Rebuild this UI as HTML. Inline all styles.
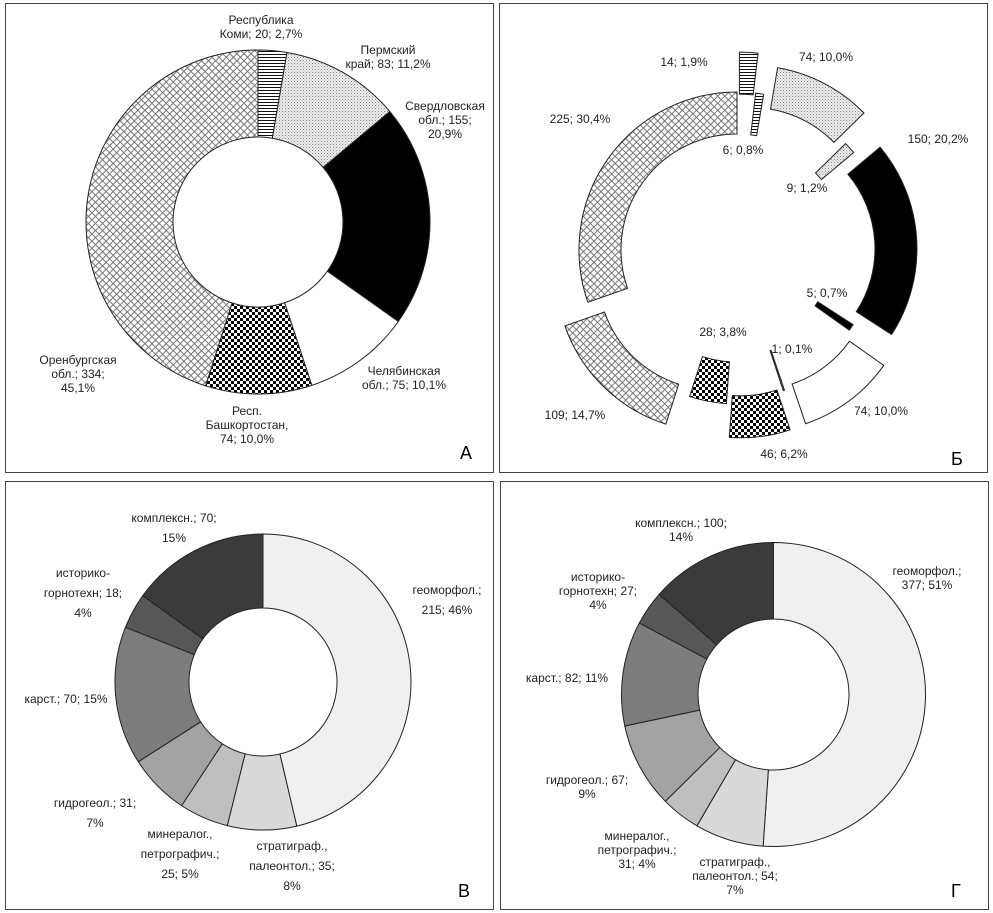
<!DOCTYPE html>
<html><head><meta charset="utf-8">
<style>
html,body{margin:0;padding:0;background:#fff;}
svg{display:block;}
text{font-family:"Liberation Sans",sans-serif;font-size:12px;fill:#222;}
.big{font-size:18px;fill:#000;}
</style></head>
<body>
<svg id="fig" width="993" height="913" viewBox="0 0 993 913">
<defs>
 <pattern id="p-hl" width="4" height="3" patternUnits="userSpaceOnUse"><rect width="4" height="3" fill="#fff"/><rect width="4" height="1" fill="#111"/></pattern>
 <pattern id="p-dot" width="3" height="3" patternUnits="userSpaceOnUse"><rect width="3" height="3" fill="#eee"/><rect width="1" height="1" fill="#888"/><rect x="1.5" y="1.5" width="1" height="1" fill="#aaa"/></pattern>
 <pattern id="p-cross" width="5" height="5" patternUnits="userSpaceOnUse" patternTransform="rotate(45)"><rect width="5" height="5" fill="#fff"/><rect width="5" height="1" fill="#777"/><rect width="1" height="5" fill="#777"/></pattern>
 <pattern id="p-check" width="6" height="6" patternUnits="userSpaceOnUse"><rect width="6" height="6" fill="#fff"/><rect width="3" height="3" fill="#000"/><rect x="3" y="3" width="3" height="3" fill="#000"/></pattern>
</defs>
<rect x="5.5" y="3.5" width="488" height="469" fill="none" stroke="#444"/>
<rect x="499.5" y="3.5" width="488" height="469" fill="none" stroke="#444"/>
<rect x="5.5" y="481.5" width="488" height="428" fill="none" stroke="#444"/>
<rect x="500.5" y="481.5" width="488" height="428" fill="none" stroke="#444"/>
<g id="gA"></g>
<g id="gB"></g>
<g id="gC"></g>
<g id="gD"></g>
<text class="big" x="460" y="459">А</text>
<text class="big" x="951" y="465">Б</text>
<text class="big" x="458" y="897">В</text>
<text class="big" x="951" y="897">Г</text>
</svg>
<script>
// Chart A
const aCategories = ["Республика Коми","Пермский край","Свердловская обл.","Челябинская обл.","Респ. Башкортостан","Оренбургская обл."];
const aValues = [20, 83, 155, 75, 74, 334];
const aLabels = [["Республика","Коми; 20; 2,7%"],["Пермский","край; 83; 11,2%"],["Свердловская","обл.; 155;","20,9%"],["Челябинская","обл.; 75; 10,1%"],["Респ.","Башкортостан,","74; 10,0%"],["Оренбургская","обл.; 334;","45,1%"]];
// Chart Б
const bValues = [14, 6, 74, 9, 150, 5, 74, 1, 46, 28, 109, 225];
const bLabels = ["14; 1,9%","6; 0,8%","74; 10,0%","9; 1,2%","150; 20,2%","5; 0,7%","74; 10,0%","1; 0,1%","46; 6,2%","28; 3,8%","109; 14,7%","225; 30,4%"];
// Chart В
const cCategories = ["геоморфол.","стратиграф., палеонтол.","минералог., петрографич.","гидрогеол.","карст.","историко-горнотехн","комплексн."];
const cValues = [215, 35, 25, 31, 70, 18, 70];
const cLabels = [["геоморфол.;","215; 46%"],["стратиграф.,","палеонтол.; 35;","8%"],["минералог.,","петрографич.;","25; 5%"],["гидрогеол.; 31;","7%"],["карст.; 70; 15%"],["историко-","горнотехн; 18;","4%"],["комплексн.; 70;","15%"]];
// Chart Г
const dValues = [377, 54, 31, 67, 82, 27, 100];
const dLabels = [["геоморфол.;","377; 51%"],["стратиграф.,","палеонтол.; 54;","7%"],["минералог.,","петрографич.;","31; 4%"],["гидрогеол.; 67;","9%"],["карст.; 82; 11%"],["историко-","горнотехн; 27;","4%"],["комплексн.; 100;","14%"]];

// styling (not data)
const aFills = ["url(#p-hl)","url(#p-dot)","#000","#fff","url(#p-check)","url(#p-cross)"];
const bFills = ["url(#p-hl)","url(#p-hl)","url(#p-dot)","url(#p-dot)","#000","#000","#fff","#888","url(#p-check)","url(#p-check)","url(#p-cross)","url(#p-cross)"];
const bExplode = [40,0,30,-6,22,-20,30,-10,30,-4,33,0];
const grayFills = ["#f0f0f0","#d9d9d9","#bfbfbf","#a3a3a3","#7d7d7d","#575757","#3b3b3b"];
const aLabelPos = [[261,20],[388,50],[445,106],[404,371],[247,411],[78,360]];
const bLabelPos = [[684,62],[743,150],[826,57],[807,188],[938,139],[827,293],[881,411],[792,349],[784,454],[723,332],[575,415],[580,119]];
const cLabelPos = [[447,590],[292,846],[180,834],[95,803],[66,699],[83,573],[174,518]];
const dLabelPos = [[927,571],[735,862],[637,836],[587,780],[567,678],[598,577],[681,523]];

const NS = "http://www.w3.org/2000/svg";
function pt(cx, cy, r, deg){ const a = deg*Math.PI/180; return [cx + r*Math.sin(a), cy - r*Math.cos(a)]; }
function sector(cx, cy, r0, r1, a0, a1){
  const large = (a1 - a0) > 180 ? 1 : 0;
  const p1 = pt(cx,cy,r1,a0), p2 = pt(cx,cy,r1,a1), p3 = pt(cx,cy,r0,a1), p4 = pt(cx,cy,r0,a0);
  return `M${p1[0]},${p1[1]} A${r1},${r1} 0 ${large} 1 ${p2[0]},${p2[1]} L${p3[0]},${p3[1]} A${r0},${r0} 0 ${large} 0 ${p4[0]},${p4[1]} Z`;
}
function donut(gid, values, fills, cx, cy, r0, r1, explode, prefix){
  const g = document.getElementById(gid);
  const total = values.reduce((s,v)=>s+v,0);
  let acc = 0;
  values.forEach((v,i)=>{
    const a0 = acc/total*360, a1 = (acc+v)/total*360; acc += v;
    const d = explode ? explode[i] : 0;
    const mid = (a0+a1)/2;
    const c = pt(cx, cy, d, mid);
    const p = document.createElementNS(NS, "path");
    p.setAttribute("d", sector(c[0], c[1], r0, r1, a0, a1));
    p.setAttribute("fill", fills[i]);
    p.setAttribute("stroke", "#222");
    p.setAttribute("stroke-width", "1");
    
    
    g.appendChild(p);
  });
}
function labels(gid, texts, pos, lh, prefix){
  const g = document.getElementById(gid);
  texts.forEach((t,i)=>{
    const lines = Array.isArray(t) ? t : [t];
    const el = document.createElementNS(NS, "text");
    el.setAttribute("text-anchor", "middle");
    
    
    lines.forEach((s,j)=>{
      const ts = document.createElementNS(NS, "tspan");
      ts.setAttribute("x", pos[i][0]);
      ts.setAttribute("y", pos[i][1] + 4 + j*lh);
      ts.textContent = s;
      el.appendChild(ts);
    });
    g.appendChild(el);
  });
}
donut("gA", aValues, aFills, 258, 222, 85, 172, null, "chart-a");
labels("gA", aLabels, aLabelPos, 14, "chart-a");
donut("gB", bValues, bFills, 737, 250, 116, 158, bExplode, "chart-b");
labels("gB", bLabels, bLabelPos, 14, "chart-b");
donut("gC", cValues, grayFills, 263, 682, 74, 148, null, "chart-c");
labels("gC", cLabels, cLabelPos, 20, "chart-c");
donut("gD", dValues, grayFills, 773.5, 694.5, 75.5, 152, null, "chart-d");
labels("gD", dLabels, dLabelPos, 14, "chart-d");
</script>
</body></html>
